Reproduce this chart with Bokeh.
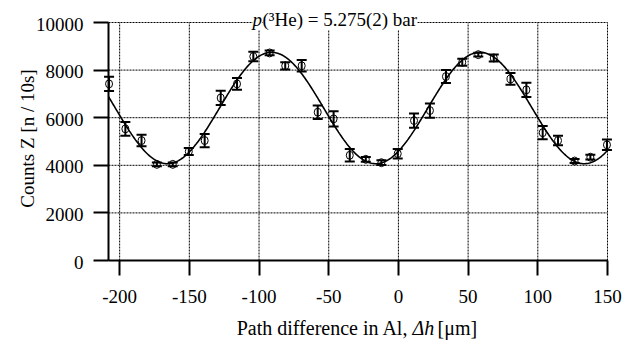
import numpy as np
from bokeh.plotting import figure
from bokeh.models import (Range1d, FixedTicker, Whisker, TeeHead, ColumnDataSource, Label,
                          CustomJSTickFormatter)
from bokeh.core.properties import value
from bokeh.embed import file_html
from bokeh.resources import INLINE

# ---- data ----
path_diff = [-207.6, -195.9, -184.3, -173.3, -161.9, -150.4, -139.0, -127.5,
             -115.8, -104.1, -92.4, -81.2, -69.4, -57.9, -46.5, -34.9,
             -23.4, -12.2, -0.5, 11.2, 22.6, 34.1, 45.8, 57.3,
             68.4, 80.4, 91.8, 103.5, 114.5, 126.4, 137.7, 149.6]
counts = [7420, 5530, 5040, 4040, 4040, 4580, 5040, 6830,
          7420, 8570, 8720, 8180, 8180, 6230, 5950, 4420,
          4250, 4110, 4490, 5880, 6300, 7730, 8330, 8650,
          8510, 7630, 7170, 5370, 5040, 4180, 4340, 4860]
count_err = [300, 290, 240, 80, 80, 150, 280, 300,
             250, 200, 100, 150, 240, 280, 320, 260,
             100, 100, 200, 300, 300, 270, 150, 80,
             150, 250, 300, 280, 200, 80, 100, 220]

# sinusoidal fit parameters
fit_mean = 6407
fit_amp = 2340
fit_period = 149.5
fit_x0 = 58.5

x_ticks = [-200, -150, -100, -50, 0, 50, 100, 150]
x_tick_labels = ["-200", "-150", "-100", "-50", "0", "50", "100", "150"]
y_ticks = [0, 2000, 4000, 6000, 8000, 10000]
y_tick_labels = ["0", "2000", "4000", "6000", "8000", "10000"]

title_italic = "p"
title_rest = "(\u00b3He) = 5.275(2) bar"
xlabel_a = "Path difference in Al,"
xlabel_b = "\u0394h"
xlabel_c = "[\u03bcm]"
ylabel = "Counts Z [n / 10s]"

X_MIN, X_MAX = -208, 150
Y_MIN, Y_MAX = 0, 10000

# ---- layout (pixels) ----
W, H = 643, 347
PL, PR, PT, PB = 108, 607, 22, 260   # plotting box edges in pixels

FONT = "Liberation Serif"
FS = "19px"


def dx(px):
    return X_MIN + (px - PL) / (PR - PL) * (X_MAX - X_MIN)


def dy(py):
    return Y_MIN + (PB - py) / (PB - PT) * (Y_MAX - Y_MIN)


p = figure(width=W, height=H, output_backend="svg", toolbar_location=None,
           x_range=Range1d(dx(0), dx(W)), y_range=Range1d(dy(H), dy(0)),
           min_border=0)
p.outline_line_color = None
p.background_fill_color = "white"
p.border_fill_color = "white"
p.grid.visible = False

xa = p.xaxis[0]
ya = p.yaxis[0]
xa.fixed_location = Y_MIN
xa.bounds = (X_MIN, X_MAX)
ya.fixed_location = X_MIN
ya.bounds = (Y_MIN, Y_MAX)

for ax, tv in ((xa, x_ticks), (ya, y_ticks)):
    ax.ticker = FixedTicker(ticks=tv)
    ax.formatter = CustomJSTickFormatter(code="return '';")
    ax.axis_line_width = 2
    ax.axis_line_color = "black"
    ax.major_tick_line_width = 2
    ax.major_tick_line_color = "black"
    ax.major_tick_out = 15
    ax.major_tick_in = 0
    ax.minor_tick_out = 0
    ax.minor_tick_in = 0
    ax.major_label_text_alpha = 0

# grid lines at the tick positions
n_x = len(x_ticks)
n_y = len(y_ticks)
p.segment(x0=x_ticks, y0=[Y_MIN] * n_x, x1=x_ticks, y1=[Y_MAX] * n_x,
          line_color="black", line_width=1, line_dash="2 1")
p.segment(x0=[X_MIN] * n_y, y0=y_ticks, x1=[X_MAX] * n_y, y1=y_ticks,
          line_color="black", line_width=1, line_dash="2 1")

# tick labels (serif), placed at the tick values
p.text(x=x_ticks, y=[Y_MIN] * n_x, text=x_tick_labels, text_font=value(FONT),
       text_font_size=FS, text_color="black", text_align="center",
       text_baseline="alphabetic", y_offset=36)
p.text(x=[X_MIN] * n_y, y=y_ticks, text=y_tick_labels, text_font=value(FONT),
       text_font_size=FS, text_color="black", text_align="right",
       text_baseline="alphabetic", x_offset=-25, y_offset=1.5)

# fit curve
xs = np.linspace(X_MIN, X_MAX, 500)
ys = fit_mean + fit_amp * np.cos(2 * np.pi * (xs - fit_x0) / fit_period)
p.line(xs, ys, line_color="black", line_width=1.6)

# data with error bars
src = ColumnDataSource(dict(
    x=path_diff, y=counts,
    upper=[c + e for c, e in zip(counts, count_err)],
    lower=[c - e for c, e in zip(counts, count_err)],
))
wh = Whisker(source=src, base="x", upper="upper", lower="lower",
             line_color="black", line_width=2,
             upper_head=TeeHead(size=10, line_width=2, line_color="black"),
             lower_head=TeeHead(size=10, line_width=2, line_color="black"))
p.add_layout(wh)
p.ellipse("x", "y", source=src, width=7, height=8, width_units="screen",
          height_units="screen", fill_color=None, line_color="black", line_width=1)

# title
p.add_layout(Label(x=dx(252), y=dy(19), text=title_italic, text_font=FONT,
                   text_font_size=FS, text_font_style="italic", text_color="black",
                   text_baseline="alphabetic", background_fill_color="white"))
p.add_layout(Label(x=dx(262), y=dy(19), text=title_rest, text_font=FONT,
                   text_font_size=FS, text_color="black",
                   text_baseline="alphabetic", background_fill_color="white"))

# x axis label
XFS = "20px"
p.add_layout(Label(x=dx(408), y=dy(327), text=xlabel_a, text_font=FONT,
                   text_font_size=XFS, text_color="black", text_align="right",
                   text_baseline="alphabetic"))
p.add_layout(Label(x=dx(412), y=dy(327), text=xlabel_b, text_font=FONT,
                   text_font_size=XFS, text_font_style="italic", text_color="black",
                   text_align="left", text_baseline="alphabetic"))
p.add_layout(Label(x=dx(437), y=dy(327), text=xlabel_c, text_font=FONT,
                   text_font_size=XFS, text_color="black", text_align="left",
                   text_baseline="alphabetic"))

# y axis label
p.add_layout(Label(x=dx(27), y=dy(138), text=ylabel, text_font=FONT,
                   text_font_size=FS, text_color="black", text_align="center",
                   text_baseline="alphabetic", angle=np.pi / 2))

open("out.html", "w").write(file_html(p, INLINE))
